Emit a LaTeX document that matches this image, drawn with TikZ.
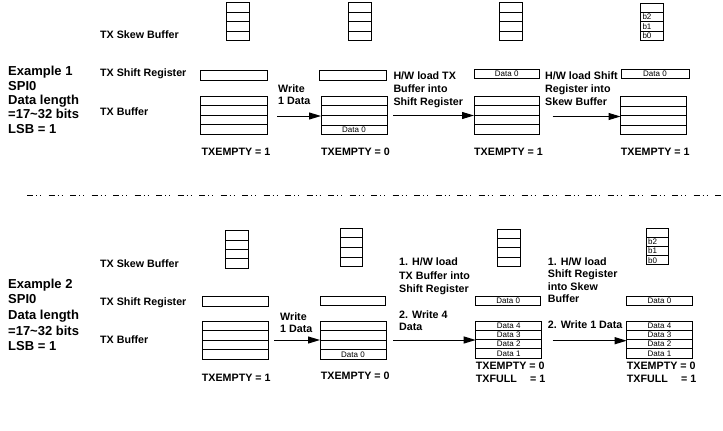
\documentclass[tikz,border=0pt]{standalone}
\usepackage{fontspec}
\setmainfont{Liberation Sans}
\usetikzlibrary{calc,arrows.meta}
\tikzset{
  cellbox/.style={draw=black, line width=1pt, inner sep=0pt, outer sep=0pt},
  celltxt/.style={font=\fontsize{8}{8}\selectfont, inner sep=0pt},
  lbl/.style={font=\fontsize{10.7}{13}\selectfont\bfseries, anchor=north west, inner sep=0pt, align=left},
  bigtxt/.style={anchor=north west, inner sep=0pt, align=left},
  arr/.style={line width=1pt, -{Triangle[length=12pt,width=7pt]}},
  sepline/.style={line width=1pt, dash pattern=on 6pt off 3pt on 1pt off 3pt on 1pt off 7.5pt}
}
\newcommand\FourBox[5]{%
  \node[cellbox, minimum width=#4pt, minimum height=#5pt, anchor=north west] (#1) at (#2,#3) {};
  \foreach \k in {1,2,3}{\draw[line width=1pt] ($(#1.north west)!\k/4!(#1.south west)$) -- ($(#1.north east)!\k/4!(#1.south east)$);}
}
\newcommand\CellTxt[4]{\node[celltxt] (#1) at ($(#2.north)!#3!(#2.south)$) {#4};}
\newcommand\CellTxtL[4]{\node[celltxt, anchor=west, xshift=2pt] (#1) at ($(#2.north west)!#3!(#2.south west)$) {#4};}
\begin{document}
\begin{tikzpicture}[x=1pt, y=-1pt]
\useasboundingbox (0,0) rectangle (723,431);
% ================= Example 1 =================
\node[bigtxt, font=\fontsize{13}{14.4}\selectfont\bfseries] (ex1) at (8,66) {Example 1\\SPI0\\Data length\\=17\textasciitilde 32 bits\\LSB = 1};
\node[lbl] (aL1) at (100,30.2) {TX Skew Buffer};
\node[lbl] (aL2) at (100,68.5) {TX Shift Register};
\node[lbl] (aL3) at (100,107.2) {TX Buffer};
% column 1
\FourBox{aSk1}{226}{2.5}{23}{38}
\node[cellbox, minimum width=67pt, minimum height=10pt, anchor=north west] (aSh1) at (200.5,70) {};
\FourBox{aBf1}{200.5}{96}{67}{38}
\node[lbl] (aSt1) at (201.5,147.9) {TXEMPTY = 1};
% column 2
\FourBox{aSk2}{348}{2.5}{23}{38}
\node[cellbox, minimum width=66.5pt, minimum height=10pt, anchor=north west] (aSh2) at (319.5,70) {};
\FourBox{aBf2}{321}{96.3}{66}{38.5}
\CellTxt{aBf2d0}{aBf2}{0.875}{Data 0}
\node[lbl] (aSt2) at (321,147.9) {TXEMPTY = 0};
% column 3
\FourBox{aSk3}{499.3}{2.5}{23}{38}
\node[cellbox, celltxt, minimum width=65.5pt, minimum height=9pt, anchor=north west] (aSh3) at (474,69) {Data 0};
\FourBox{aBf3}{474}{96}{65.5}{38}
\node[lbl] (aSt3) at (474,147.9) {TXEMPTY = 1};
% column 4
\FourBox{aSk4}{640.3}{3}{23}{37.5}
\CellTxtL{aSk4b2}{aSk4}{0.375}{b2}
\CellTxtL{aSk4b1}{aSk4}{0.625}{b1}
\CellTxtL{aSk4b0}{aSk4}{0.875}{b0}
\node[cellbox, celltxt, minimum width=68pt, minimum height=9pt, anchor=north west] (aSh4) at (621,69.3) {Data 0};
\FourBox{aBf4}{620.5}{96.5}{66}{38}
\node[lbl] (aSt4) at (620.7,147.9) {TXEMPTY = 1};
% arrows and texts
\node[lbl, font=\fontsize{10.7}{12}\selectfont\bfseries] (aT1) at (278,84.2) {Write\\1 Data};
\node[lbl] (aT2) at (393.3,71.9) {H/W load TX\\Buffer into\\Shift Register};
\node[lbl] (aT3) at (545,71.9) {H/W load Shift\\Register into\\Skew Buffer};
\coordinate (aA1) at (277,116);
\coordinate (aA2) at (393,115.5);
\coordinate (aA3) at (552.7,116.5);
\draw[arr] (aA1) -- (aA1 -| aBf2.west);
\draw[arr] (aA2) -- (aA2 -| aBf3.west);
\draw[arr] (aA3) -- (aA3 -| aBf4.west);
% ================= separator =================
\coordinate (sepL) at (27,195);
\coordinate (sepR) at (723,195);
\draw[sepline] (sepL) -- (sepR);
% ================= Example 2 =================
\node[bigtxt, font=\fontsize{13}{15.6}\selectfont\bfseries] (ex2) at (8,278.6) {Example 2\\SPI0\\Data length\\=17\textasciitilde 32 bits\\LSB = 1};
\node[lbl] (bL1) at (100,259.5) {TX Skew Buffer};
\node[lbl] (bL2) at (100,297.2) {TX Shift Register};
\node[lbl] (bL3) at (100,335.5) {TX Buffer};
% column 1
\FourBox{bSk1}{225.7}{230.7}{22.7}{37.6}
\node[cellbox, minimum width=65.6pt, minimum height=10pt, anchor=north west] (bSh1) at (202.7,296.7) {};
\FourBox{bBf1}{202.7}{321}{65.6}{38.3}
\node[lbl] (bSt1) at (201.7,373.5) {TXEMPTY = 1};
% column 2
\FourBox{bSk2}{340}{228.3}{22.7}{38.4}
\node[cellbox, minimum width=65pt, minimum height=9.5pt, anchor=north west] (bSh2) at (320,296) {};
\FourBox{bBf2}{320}{321}{66}{38.3}
\CellTxt{bBf2d0}{bBf2}{0.875}{Data 0}
\node[lbl] (bSt2) at (320.7,372.2) {TXEMPTY = 0};
% column 3
\FourBox{bSk3}{497.3}{229}{23.4}{37.7}
\node[cellbox, celltxt, minimum width=65pt, minimum height=9.3pt, anchor=north west] (bSh3) at (475.7,296) {Data 0};
\FourBox{bBf3}{475.7}{321}{66}{37}
\CellTxt{bBf3d4}{bBf3}{0.125}{Data 4}
\CellTxt{bBf3d3}{bBf3}{0.375}{Data 3}
\CellTxt{bBf3d2}{bBf3}{0.625}{Data 2}
\CellTxt{bBf3d1}{bBf3}{0.875}{Data 1}
\node[lbl] (bSt3) at (475.7,362.2) {TXEMPTY = 0\\TXFULL\hspace{0.95em} = 1};
% column 4
\FourBox{bSk4}{646}{228.3}{22}{36.5}
\CellTxtL{bSk4b2}{bSk4}{0.375}{b2}
\CellTxtL{bSk4b1}{bSk4}{0.625}{b1}
\CellTxtL{bSk4b0}{bSk4}{0.875}{b0}
\node[cellbox, celltxt, minimum width=65.6pt, minimum height=8.5pt, anchor=north west] (bSh4) at (626.7,296.7) {Data 0};
\FourBox{bBf4}{626.7}{321}{65.6}{37}
\CellTxt{bBf4d4}{bBf4}{0.125}{Data 4}
\CellTxt{bBf4d3}{bBf4}{0.375}{Data 3}
\CellTxt{bBf4d2}{bBf4}{0.625}{Data 2}
\CellTxt{bBf4d1}{bBf4}{0.875}{Data 1}
\node[lbl] (bSt4) at (626.7,362.2) {TXEMPTY = 0\\TXFULL\hspace{0.95em} = 1};
% arrows and texts
\node[lbl, font=\fontsize{10.7}{12.3}\selectfont\bfseries] (bT1) at (280,312.2) {Write\\1 Data};
\node[lbl, font=\fontsize{10.7}{13.2}\selectfont\bfseries] (bT2) at (399,257.9) {1. H/W load\\TX Buffer into\\Shift Register};
\node[lbl, font=\fontsize{10.7}{12.4}\selectfont\bfseries] (bT3) at (399,310.5) {2. Write 4\\Data};
\node[lbl, font=\fontsize{10.7}{12.5}\selectfont\bfseries] (bT4) at (547.7,257.2) {1. H/W load\\Shift Register\\into Skew\\Buffer};
\node[lbl] (bT5) at (547.7,320.2) {2. Write 1 Data};
\coordinate (bA1) at (274,340);
\coordinate (bA2) at (393.3,340);
\coordinate (bA3) at (552.7,340.7);
\draw[arr] (bA1) -- (bA1 -| bBf2.west);
\draw[arr] (bA2) -- (bA2 -| bBf3.west);
\draw[arr] (bA3) -- (bA3 -| bBf4.west);
\end{tikzpicture}
\end{document}
